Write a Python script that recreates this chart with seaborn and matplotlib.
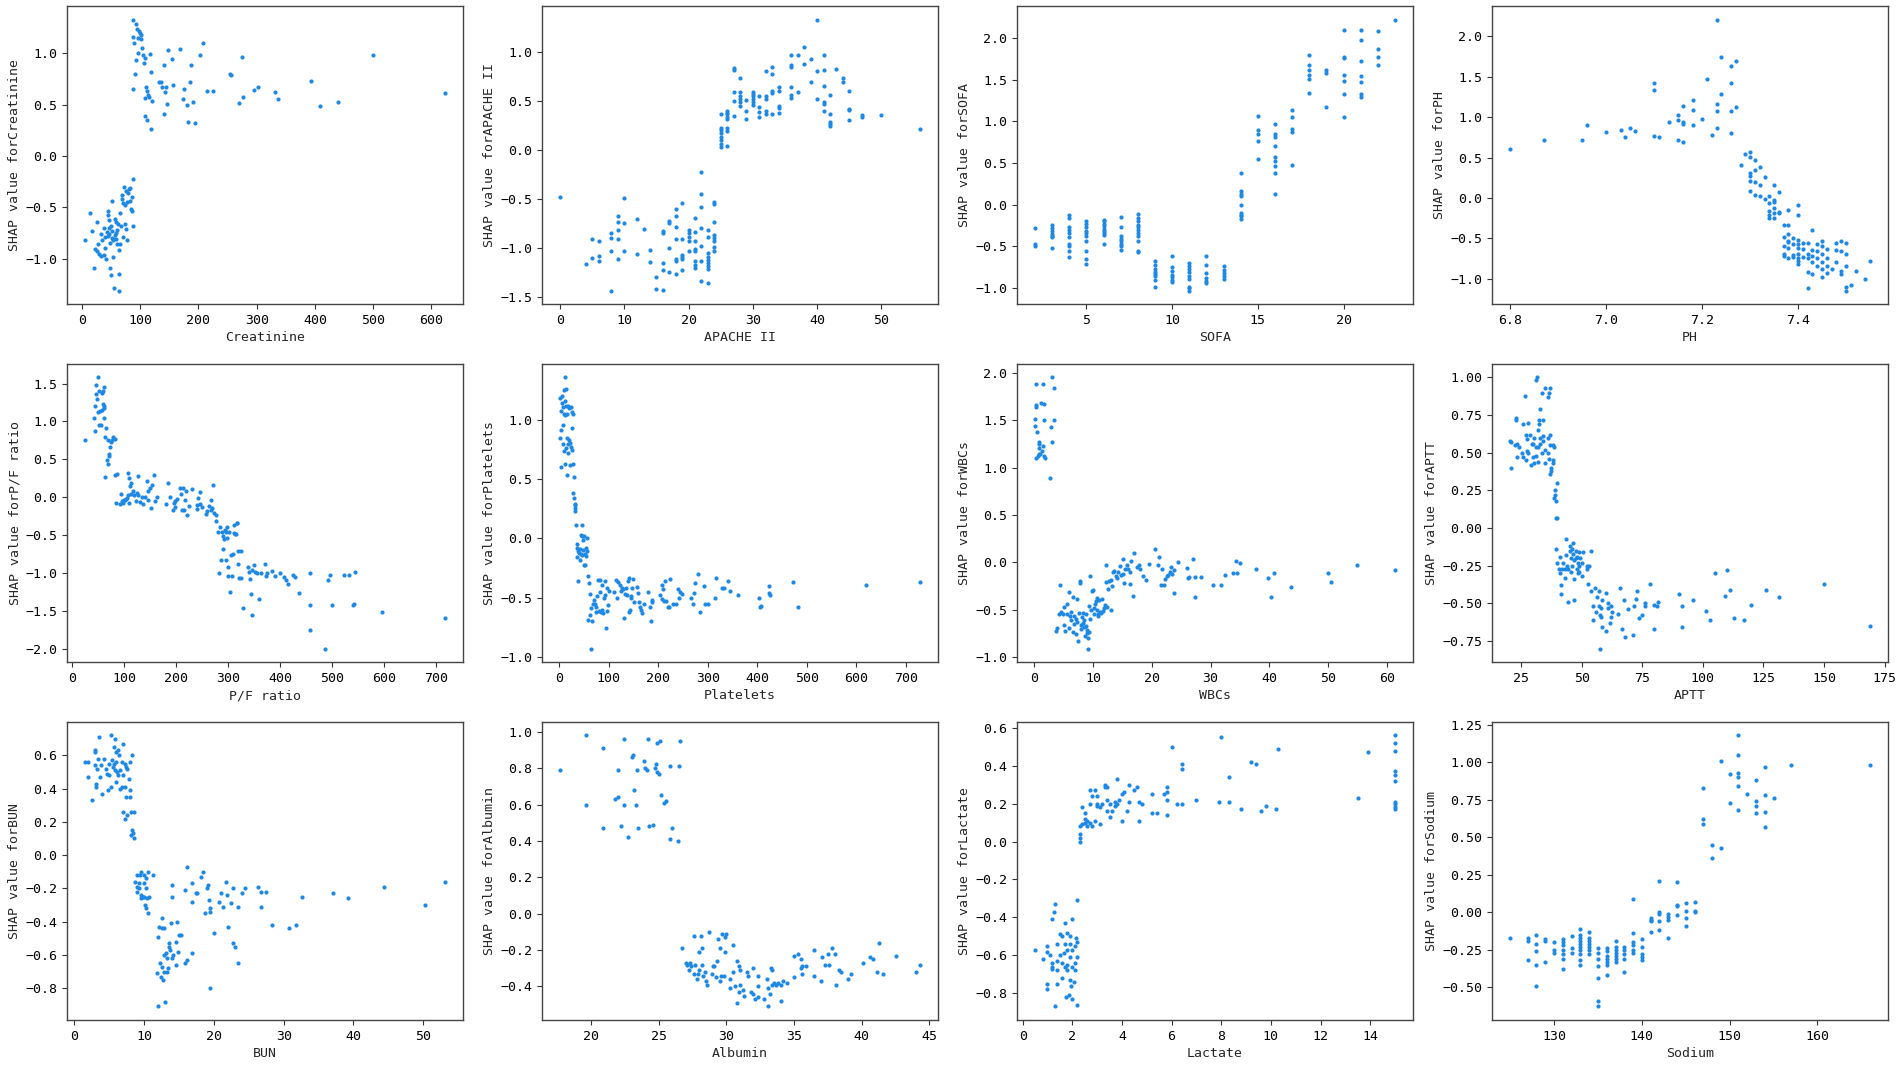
import matplotlib
matplotlib.use("Agg")
import matplotlib.pyplot as plt
import seaborn as sns

# Creatinine
creat_x = [88, 92, 95, 98, 100, 102, 97, 88, 90, 101, 103, 96, 105, 108, 93, 106, 116, 118, 91, 87,
           110, 112, 113, 115, 120, 109, 108, 111, 118, 132, 135, 138, 142, 144, 146, 140, 140, 148, 154, 156,
           168, 173, 175, 180, 182, 185, 188, 191, 194, 202, 208, 215, 225, 254, 256, 270, 274, 276, 295, 302,
           332, 337, 393, 409, 439, 500, 623,
           5, 13, 18, 20, 22, 25, 26, 28, 30, 32, 33, 35, 37, 38, 40, 40, 42, 43, 44, 45,
           46, 47, 48, 48, 49, 50, 51, 52, 52, 53, 54, 55, 56, 57, 58, 59, 60, 62, 63, 63,
           64, 65, 66, 67, 68, 69, 70, 71, 72, 73, 74, 75, 76, 77, 78, 79, 80, 82, 83, 84,
           85, 86, 87, 88, 47, 55, 58, 45, 60]
creat_y = [1.33, 1.29, 1.24, 1.22, 1.2, 1.18, 1.15, 1.16, 1.10, 1.14, 1.05, 1.0, 0.98, 0.96, 0.94, 0.91, 0.99, 0.82, 0.80, 0.65,
           0.67, 0.63, 0.60, 0.58, 0.54, 0.57, 0.39, 0.35, 0.26, 0.72, 0.72, 0.67, 0.62, 0.67, 0.51, 0.41, 0.89, 1.03, 0.95, 0.69,
           1.04, 0.56, 0.65, 0.50, 0.33, 0.72, 0.89, 0.53, 0.32, 0.98, 1.10, 0.63, 0.63, 0.80, 0.79, 0.52, 0.97, 0.58, 0.64, 0.67,
           0.62, 0.56, 0.73, 0.49, 0.53, 0.98, 0.61,
           -0.82, -0.55, -0.73, -1.09, -0.9, -0.64, -0.92, -0.86, -0.95, -0.97, -0.76, -0.82, -0.70, -0.96, -0.89, -0.79, -1.0, -0.74, -0.57, -0.53,
           -0.62, -0.76, -0.85, -1.09, -0.68, -1.16, -0.80, -0.44, -0.73, -0.98, -0.82, -1.28, -0.77, -0.61, -0.81, -0.64, -0.72, -0.66, -0.91, -1.15,
           -1.31, -0.55, -0.86, -0.68, -0.42, -0.38, -0.46, -0.79, -0.30, -0.66, -0.48, -0.71, -0.34, -0.45, -0.82, -0.36, -0.32, -0.44, -0.31, -0.51,
           -0.40, -0.53, -0.68, -0.22, -0.70, -0.81, -0.75, -0.78, -0.86]

# APACHE II
apache_x = [0, 4, 5, 5, 6, 6, 6, 8, 8, 8, 8, 9, 9, 9, 9, 9, 10, 10, 10, 12, 12, 13, 14, 14, 15, 15,
            16, 16, 16, 16, 16, 17, 17, 17, 17, 18, 18, 18, 18, 18, 18, 18, 19, 19, 19, 19, 19, 19,
            20, 20, 20, 20, 20, 21, 21, 21, 21, 21, 21, 21, 21, 22, 22, 22, 22, 22, 22, 22,
            23, 23, 23, 23, 23, 23, 23, 23, 23, 24, 24, 24, 24, 24, 24, 24, 24,
            25, 25, 25, 25, 25, 25, 25, 25, 26, 26, 26, 26, 26, 26, 26, 26, 27, 27, 27, 27, 27,
            28, 28, 28, 28, 28, 28, 29, 29, 29, 30, 30, 30, 30, 30, 30, 31, 31, 31, 31,
            32, 32, 32, 32, 32, 33, 33, 33, 33, 33, 34, 34, 34, 34, 34, 36, 36, 36, 36, 36, 36,
            37, 37, 38, 38, 39, 39, 40, 40, 40, 41, 41, 41, 41, 41, 41, 42, 42, 42, 42, 42,
            43, 44, 44, 45, 45, 45, 45, 47, 47, 50, 56]
apache_y = [-0.48, -1.17, -0.91, -1.11, -0.93, -1.09, -1.14, -0.85, -0.90, -1.03, -1.44, -0.68, -0.74, -0.82, -0.91, -1.12,
            -0.49, -0.75, -1.03, -0.71, -1.07, -0.81, -1.02, -1.15, -1.30, -1.42,
            -0.83, -0.85, -1.16, -1.23, -1.43, -0.73, -0.75, -1.00, -1.25, -0.61, -0.68, -0.79, -0.91, -1.12, -1.14, -1.27,
            -0.54, -0.91, -1.08, -1.10, -1.12, -1.23,
            -0.82, -0.85, -0.89, -0.93, -1.03, -0.70, -0.84, -0.93, -1.01, -1.03, -1.14, -1.18, -1.21,
            -0.23, -0.45, -0.59, -0.80, -0.98, -1.14, -1.34,
            -0.82, -0.89, -1.05, -1.10, -1.13, -1.16, -1.19, -1.22, -1.36, -0.53, -0.55, -0.74, -0.87, -0.90, -0.93, -0.99, -1.03,
            0.03, 0.06, 0.10, 0.13, 0.17, 0.20, 0.22, 0.36, 0.04, 0.19, 0.22, 0.31, 0.33, 0.36, 0.38, 0.40,
            0.34, 0.50, 0.59, 0.81, 0.83,
            0.45, 0.49, 0.52, 0.55, 0.59, 0.73, 0.31, 0.40, 0.51, 0.46, 0.49, 0.52, 0.55, 0.57, 0.59, 0.33, 0.39, 0.44, 0.55,
            0.37, 0.40, 0.52, 0.55, 0.80, 0.37, 0.58, 0.60, 0.77, 0.84, 0.38, 0.43, 0.45, 0.60, 0.64,
            0.53, 0.56, 0.64, 0.85, 0.87, 0.97,
            0.59, 0.97, 0.88, 1.05, 0.69, 0.93, 0.52, 0.80, 1.33, 0.40, 0.47, 0.49, 0.65, 0.81, 0.97,
            0.24, 0.26, 0.28, 0.36, 0.56,
            0.82, 0.69, 0.73, 0.30, 0.41, 0.42, 0.60, 0.33, 0.35, 0.35, 0.21]

# SOFA
sofa_x = ([2] * 3 + [3] * 7 + [4] * 10 + [5] * 10 + [6] * 9 + [7] * 8 + [8] * 11 + [9] * 8 + [10] * 7
          + [11] * 9 + [12] * 6 + [13] * 5 + [14] * 9 + [15] * 5 + [16] * 9 + [17] * 5 + [18] * 6
          + [19] * 3 + [20] * 7 + [21] * 7 + [22] * 4 + [23])
sofa_y = [-0.28, -0.47, -0.49,
          -0.24, -0.28, -0.32, -0.35, -0.37, -0.39, -0.52,
          -0.12, -0.16, -0.27, -0.30, -0.34, -0.39, -0.47, -0.50, -0.56, -0.63,
          -0.19, -0.23, -0.27, -0.31, -0.34, -0.37, -0.44, -0.55, -0.65, -0.71,
          -0.18, -0.20, -0.23, -0.26, -0.29, -0.32, -0.34, -0.36, -0.47,
          -0.15, -0.27, -0.38, -0.41, -0.43, -0.47, -0.50, -0.54,
          -0.11, -0.16, -0.20, -0.24, -0.27, -0.30, -0.34, -0.38, -0.43, -0.55, -0.57,
          -0.68, -0.72, -0.77, -0.81, -0.83, -0.86, -0.90, -0.99,
          -0.61, -0.75, -0.80, -0.84, -0.87, -0.90, -0.93,
          -0.70, -0.73, -0.77, -0.81, -0.85, -0.89, -0.98, -1.00, -1.03,
          -0.62, -0.72, -0.82, -0.88, -0.91, -0.94,
          -0.74, -0.78, -0.82, -0.86, -0.89,
          0.38, 0.17, 0.13, 0.11, 0.0, -0.10, -0.12, -0.14, -0.17,
          1.06, 0.90, 0.85, 0.76, 0.55,
          0.97, 0.85, 0.81, 0.70, 0.57, 0.52, 0.46, 0.38, 0.13,
          1.14, 1.05, 0.91, 0.87, 0.48,
          1.79, 1.68, 1.61, 1.55, 1.51, 1.34,
          1.62, 1.58, 1.17,
          2.10, 1.77, 1.76, 1.56, 1.48, 1.33, 1.05,
          2.09, 1.98, 1.72, 1.54, 1.47, 1.33, 1.29,
          2.08, 1.87, 1.77, 1.68,
          2.22]

# PH
ph_x = [6.80, 6.87, 6.95, 6.96, 7.00, 7.03, 7.04, 7.05, 7.06, 7.10, 7.10, 7.10, 7.11, 7.13, 7.15, 7.15, 7.15,
        7.16, 7.16, 7.16, 7.16, 7.18, 7.18, 7.18, 7.20, 7.21, 7.22, 7.23, 7.23, 7.23, 7.23, 7.24, 7.24,
        7.26, 7.26, 7.26, 7.26, 7.27, 7.27,
        7.28, 7.29, 7.30, 7.30, 7.30, 7.30, 7.30, 7.30, 7.31, 7.31, 7.31, 7.31, 7.32, 7.32, 7.32, 7.33, 7.33,
        7.34, 7.34, 7.34, 7.34, 7.34, 7.35, 7.35, 7.35, 7.35, 7.35, 7.35, 7.36, 7.36, 7.36,
        7.37, 7.37, 7.37, 7.37, 7.37, 7.38, 7.38, 7.38, 7.38, 7.38, 7.38, 7.38, 7.39, 7.39, 7.39, 7.39,
        7.40, 7.40, 7.40, 7.40, 7.40, 7.40, 7.40, 7.40, 7.40, 7.41, 7.41, 7.41, 7.42, 7.42, 7.42, 7.42, 7.42,
        7.43, 7.43, 7.43, 7.43, 7.43, 7.44, 7.44, 7.44, 7.44, 7.45, 7.45, 7.45, 7.45, 7.45, 7.45,
        7.46, 7.46, 7.46, 7.46, 7.47, 7.48, 7.48, 7.48, 7.49, 7.49, 7.49, 7.49, 7.50, 7.50, 7.50, 7.50, 7.50,
        7.51, 7.52, 7.54, 7.55]
ph_y = [0.61, 0.72, 0.72, 0.90, 0.82, 0.84, 0.76, 0.86, 0.83, 1.42, 1.34, 0.77, 0.75, 0.94, 1.03, 0.96, 0.72,
        0.94, 0.92, 1.14, 0.69, 1.21, 1.09, 0.90, 0.98, 1.47, 0.78, 2.21, 1.16, 1.08, 0.86, 1.75, 1.29,
        1.64, 1.42, 1.08, 0.80, 1.70, 1.12,
        0.41, 0.54, 0.57, 0.51, 0.31, 0.27, 0.21, 0.08, 0.47, 0.35, 0.20, 0.04, 0.38, 0.16, 0.02, 0.26, -0.01,
        0.02, -0.06, -0.16, -0.21, -0.25, 0.16, -0.03, -0.05, -0.13, -0.19, -0.25, 0.07, -0.17, -0.19,
        -0.33, -0.48, -0.60, -0.69, -0.72, -0.15, -0.33, -0.45, -0.53, -0.55, -0.62, -0.74, -0.50, -0.57, -0.71, -0.73,
        -0.09, -0.21, -0.52, -0.57, -0.62, -0.69, -0.75, -0.78, -0.82, -0.56, -0.63, -0.73, -0.56, -0.69, -0.74, -0.92, -1.12,
        -0.40, -0.65, -0.72, -0.80, -0.94, -0.57, -0.66, -0.74, -0.85, -0.53, -0.60, -0.70, -0.79, -0.88, -0.98,
        -0.63, -0.75, -0.84, -0.93, -0.88, -0.56, -0.64, -0.80, -0.54, -0.66, -0.90, -0.94, -0.56, -0.69, -0.84, -1.11, -1.15,
        -1.08, -0.91, -1.01, -0.78]

# P/F ratio
pf_x = [25, 43, 44, 45, 46, 47, 48, 50, 51, 52, 53, 54, 55, 57, 58, 59, 60, 61, 61, 62, 62, 63, 63, 66, 67,
        69, 70, 71, 72, 74, 75, 77, 79, 82, 83, 85, 87,
        93, 95, 97, 99, 100, 102, 104, 105, 107, 108, 109, 110, 112, 113, 114, 117, 120, 124, 126, 127, 128,
        131, 135, 136, 140, 144, 146, 147, 150, 152, 154, 157, 159, 164, 180, 184, 188, 195, 197, 198, 199,
        203, 207, 210, 212, 213, 215, 218, 220, 222, 226, 230, 240, 241, 243, 246, 247, 250, 257, 260, 264,
        267, 268, 270, 272, 274, 277, 278, 280,
        282, 285, 286, 288, 290, 291, 293, 294, 296, 297, 298, 299, 300, 300, 302, 304, 306, 308, 309, 311,
        312, 314, 316, 317, 318, 319, 320, 322, 325, 326, 328,
        338, 340, 342, 344, 346, 347, 350, 352, 355, 360, 363, 371, 373, 375, 385, 390, 400, 407, 412, 415,
        426, 428, 437, 457, 457, 457, 486, 493, 497, 500, 523, 532, 541, 543, 545, 597, 717]
pf_y = [0.76, 1.05, 1.20, 0.87, 1.36, 1.48, 1.30, 1.12, 1.58, 0.96, 1.40, 1.14, 0.95, 1.15, 1.38, 1.23, 1.40, 1.20, 1.05,
        1.45, 1.18, 0.80, 0.27, 0.92, 0.49, 0.75, 0.44, 0.57, 0.54, 0.66, 0.73, 0.76, 0.79, 0.29, 0.77, -0.07, 0.31,
        -0.09, 0.04, -0.05, -0.07, -0.03, -0.04, -0.02, -0.01, 0.03, 0.32, -0.07, 0.26, 0.15, 0.19, 0.05, 0.08, 0.03,
        -0.05, 0.06, 0.28, 0.03, -0.06, 0.01, -0.09, 0.00, 0.22, -0.04, 0.09, 0.13, -0.14, 0.17, 0.29, -0.05, 0.01,
        -0.08, 0.19, 0.01, -0.17, -0.07, -0.05, -0.12, -0.02, 0.12, 0.04, -0.17, 0.13, -0.17, -0.03, 0.09, -0.23,
        -0.11, 0.11, -0.10, -0.15, -0.01, -0.08, 0.07, -0.13, -0.22, -0.18, -0.11, -0.04, -0.17, -0.14, 0.16, -0.21,
        -0.23, -0.31, -0.46,
        -1.00, -0.39, -0.82, -0.45, -0.51, -0.68, -0.55, -0.43, -0.83, -0.46, -0.39, -0.53, -0.91, -1.03, -0.46,
        -1.24, -0.76, -1.03, -0.75, -0.36, -0.47, -0.48, -0.48, -0.34, -0.33, -0.70, -0.87, -1.06, -0.71, -1.06, -1.45,
        -0.92, -0.98, -1.07, -1.27, -0.95, -1.55, -0.89, -0.98, -0.99, -1.34, -1.00, -0.87, -1.04, -1.00, -0.97,
        -1.04, -0.99, -1.05, -1.09, -1.14, -1.02, -1.05, -1.26, -0.99, -1.41, -1.74, -1.99, -1.09, -1.02, -1.41,
        -1.02, -1.02, -1.42, -1.40, -0.98, -1.51, -1.59]

# Platelets
plt_x = [2, 3, 4, 4, 5, 6, 7, 8, 9, 9, 10, 10, 11, 12, 12, 13, 13, 14, 15, 15, 16, 17, 17, 18, 19, 19, 20,
         21, 22, 23, 24, 25, 26, 26, 27, 28, 28, 29, 30, 31, 32, 32, 33, 33,
         35, 36, 37, 37, 38, 39, 40, 42, 43, 44, 45, 46, 46, 47, 48, 49, 50, 51, 52, 53, 54, 55, 56, 57, 58,
         58, 60, 62, 63, 64, 65, 66, 68, 70, 72, 74, 75, 77, 78, 80, 82, 83, 84, 86, 87, 88, 90, 92, 93, 95,
         96, 97, 98, 100, 110, 115, 117, 120, 123, 126, 128, 130, 132, 133, 135, 138, 140, 141, 142, 144, 145,
         146, 148, 150, 152, 157, 160, 161, 163, 166, 167, 171, 180, 183, 185, 187, 188, 204, 207, 208, 210,
         212, 214, 215, 220, 222, 224, 230, 235, 240, 242, 245, 248, 267, 270, 273, 275, 280, 284, 292, 295,
         300, 314, 316, 328, 332, 340, 345, 362, 404, 405, 408, 424, 424, 425, 471, 483, 620, 728]
plt_y = [1.19, 0.85, 0.92, 0.60, 1.08, 1.20, 1.14, 1.11, 0.96, 0.80, 1.05, 0.74, 1.25, 1.36, 0.63, 1.16, 1.04, 1.26,
         1.12, 0.76, 0.54, 1.05, 0.85, 0.80, 1.12, 0.72, 0.83, 1.10, 0.62, 0.81, 1.11, 0.77, 0.93, 1.07, 0.75, 0.63,
         1.05, 0.38, 0.52, 0.34, 0.28, 0.26, 0.23, 0.29,
         0.11, -0.05, -0.08, -0.16, -0.11, -0.36, -0.12, -0.09, -0.18, -0.13, 0.03, -0.14, 0.11, 0.02, -0.10, -0.01,
         -0.22, 0.02, -0.13, -0.22, -0.08, -0.15, 0.00, -0.11, -0.32,
         -0.69, -0.38, -0.47, -0.65, -0.59, -0.93, -0.70, -0.55, -0.52, -0.55, -0.58, -0.62, -0.49, -0.35, -0.61,
         -0.45, -0.35, -0.62, -0.60, -0.39, -0.63, -0.50, -0.36, -0.48, -0.76, -0.42, -0.61, -0.56, -0.44, -0.45,
         -0.35, -0.50, -0.37, -0.39, -0.44, -0.42, -0.43, -0.67, -0.47, -0.42, -0.48, -0.36, -0.33, -0.62, -0.60,
         -0.50, -0.49, -0.42, -0.34, -0.54, -0.41, -0.46, -0.54, -0.58, -0.60, -0.63, -0.55, -0.45, -0.58, -0.70,
         -0.52, -0.54, -0.48, -0.39, -0.51, -0.43, -0.53, -0.36, -0.53, -0.58, -0.58, -0.34, -0.55, -0.55, -0.43,
         -0.50, -0.45, -0.47, -0.50, -0.55, -0.46, -0.38, -0.30, -0.62, -0.40, -0.55, -0.55, -0.50, -0.33, -0.42,
         -0.42, -0.36, -0.44, -0.48, -0.50, -0.58, -0.57, -0.40, -0.46, -0.48, -0.37, -0.58, -0.39, -0.37]

# WBCs
wbc_x = [0.1, 0.1, 0.2, 0.2, 0.2, 0.3, 0.4, 0.6, 0.7, 0.8, 0.8, 0.8, 1.0, 1.1, 1.2, 1.5, 1.5, 1.6, 1.6, 1.7, 1.8,
         2.7, 2.8, 2.9, 3.0, 3.3, 3.4,
         3.7, 3.9, 4.2, 4.3, 4.5, 4.8, 5.0, 5.1, 5.2, 5.5, 5.6, 5.8, 5.9, 6.0, 6.2, 6.3, 6.5, 6.6, 6.7, 6.8,
         7.0, 7.1, 7.2, 7.3, 7.4, 7.6, 7.7, 7.8, 7.9, 8.0, 8.1, 8.2, 8.3, 8.4, 8.5, 8.6, 8.7, 8.8, 8.9, 9.0,
         9.1, 9.1, 9.2, 9.3, 9.4, 9.5, 9.6, 9.8, 10.0, 10.1, 10.2, 10.3, 10.4, 10.6, 10.7, 10.8, 10.9, 11.0,
         11.1, 11.3, 11.5, 11.6, 11.8, 12.0, 12.1, 12.2, 12.4, 12.5, 12.7, 13.0, 13.0,
         13.2, 13.4, 13.6, 13.8, 14.0, 14.2, 14.5, 14.7, 15.0, 15.1, 15.3, 15.5, 15.8, 16.0, 16.2, 16.3, 16.5,
         16.8, 17.0, 17.5, 17.8, 18.0, 18.5, 19.0, 19.5, 20.5, 21.0, 21.2, 21.5, 21.8, 22.0, 22.3, 22.5, 22.8,
         23.0, 23.3, 23.5, 23.7, 23.8, 24.5, 26.0, 26.1, 26.3, 27.0, 27.3, 27.4, 28.3, 30.4, 31.8, 32.5, 33.8,
         34.3, 34.5, 35.0, 37.8, 39.8, 40.2, 40.8, 43.7, 50.0, 50.5, 54.9, 61.4]
wbc_y = [1.51, 1.44, 1.88, 1.66, 1.64, 1.10, 1.37, 1.12, 1.14, 1.27, 1.25, 1.21, 1.14, 1.68, 1.17, 1.88, 1.23, 1.67,
         1.50, 1.12, 1.10, 0.89, 1.43, 1.95, 1.27, 1.84, 1.50,
         -0.72, -0.69, -0.54, -0.24, -0.52, -0.55, -0.66, -0.47, -0.72, -0.44, -0.55, -0.31, -0.69, -0.57, -0.61,
         -0.52, -0.73, -0.37, -0.65, -0.57, -0.76, -0.60, -0.63, -0.39, -0.83, -0.53, -0.20, -0.22, -0.66, -0.70,
         -0.58, -0.64, -0.53, -0.68, -0.61, -0.78, -0.67, -0.55, -0.71, -0.75, -0.80, -0.91, -0.73, -0.46, -0.60,
         -0.14, -0.50, -0.30, -0.29, -0.55, -0.48, -0.44, -0.41, -0.38, -0.50, -0.54, -0.57, -0.40, -0.52, -0.53,
         -0.39, -0.51, -0.48, -0.45, -0.03, -0.21, -0.47, -0.28, -0.20, -0.50, -0.19,
         -0.25, -0.10, -0.09, -0.14, -0.17, -0.10, -0.04, -0.13, -0.12, 0.03, -0.22, -0.07, -0.03, -0.07, -0.10,
         -0.23, 0.01, -0.36, 0.10, -0.05, -0.03, -0.07, -0.14, -0.19, -0.02, 0.14, -0.03, 0.06, -0.24, -0.07,
         -0.24, -0.18, -0.14, -0.13, -0.10, -0.05, -0.12, -0.32, -0.08, 0.00, -0.06, -0.17, -0.16, 0.03, -0.15,
         -0.37, -0.15, -0.24, -0.24, -0.13, -0.11, 0.01, -0.11, -0.01, -0.07, -0.17, -0.37, -0.11, -0.26, -0.11,
         -0.21, -0.03, -0.08]

# APTT
aptt_x = [20.5, 21, 21, 22.5, 23, 23, 23.5, 23.5, 24, 25.5, 26, 26, 26.5, 27, 27, 27.5, 27.5, 28, 28, 28.5, 29,
          29.5, 30, 30, 30.5, 30.5, 31, 31, 31, 31.5, 32, 32, 32, 32.5, 32.5, 33, 33, 33, 33.5, 33.5, 34, 34, 34,
          35, 35, 35, 36, 36, 36, 36.5, 36.5, 37, 37, 37, 37, 37.5, 37.5, 38, 38, 38, 38.5, 38.5, 39, 39, 39.5,
          39.5, 40, 40,
          39.5, 40, 40.5, 41, 41, 41.5, 41.5, 42, 42.5, 43, 43, 43.5, 43.5, 44, 44.5, 44.5, 45, 45, 45.5, 45.5,
          46, 46, 46.5, 46.5, 47, 47, 47, 47.5, 47.5, 48, 48, 48.5, 48.5, 49, 49, 49, 49.5, 50, 50, 50.5, 52,
          52, 52.5, 53, 54,
          54, 54.5, 54.5, 55.5, 56, 56.5, 57, 57, 57.5, 57.5, 58, 58, 58.5, 58.5, 60, 60, 61, 61, 61.5, 62, 62,
          62.5, 65, 66, 66.5, 67.5, 68, 69, 71, 71.5, 72.5, 73, 73.5, 75, 76, 76, 78, 80, 80, 81, 81.5, 90,
          91.5, 91.5, 96, 101.5, 103, 105, 109, 110, 111, 113, 117, 120, 126, 131.5, 150, 169]
aptt_y = [0.58, 0.57, 0.40, 0.55, 0.72, 0.73, 0.56, 0.47, 0.54, 0.50, 0.69, 0.47, 0.88, 0.45, 0.62, 0.51, 0.59, 0.70,
          0.50, 0.62, 0.42, 0.56, 0.47, 0.56, 0.43, 0.60, 0.98, 0.54, 0.48, 1.00, 0.44, 0.54, 0.65, 0.72, 0.69, 0.79,
          0.60, 0.56, 0.90, 0.50, 0.72, 0.61, 0.58, 0.93, 0.52, 0.43, 0.87, 0.60, 0.50, 0.90, 0.46, 0.93, 0.62, 0.55,
          0.36, 0.40, 0.38, 0.45, 0.43, 0.55, 0.20, 0.54, 0.22, 0.25, 0.07, 0.18, 0.30, 0.07,
          -0.14, -0.23, -0.27, -0.19, -0.30, -0.38, -0.44, -0.27, -0.23, -0.27, -0.33, -0.07, -0.18, -0.25, -0.49,
          -0.27, -0.12, -0.15, -0.29, -0.20, -0.14, -0.25, -0.10, -0.17, -0.21, -0.34, -0.48, -0.15, -0.20, -0.19,
          -0.27, -0.23, -0.30, -0.16, -0.25, -0.29, -0.20, -0.32, -0.23, -0.16, -0.27, -0.25, -0.37, -0.25, -0.15,
          -0.42, -0.52, -0.61, -0.40, -0.56, -0.46, -0.42, -0.52, -0.58, -0.80, -0.53, -0.59, -0.48, -0.66, -0.43,
          -0.68, -0.50, -0.53, -0.63, -0.52, -0.59, -0.56, -0.57, -0.40, -0.67, -0.48, -0.72, -0.54, -0.71, -0.52,
          -0.47, -0.42, -0.60, -0.58, -0.50, -0.52, -0.37, -0.51, -0.67, -0.52, -0.49, -0.44, -0.52, -0.66, -0.48,
          -0.55, -0.61, -0.30, -0.45, -0.28, -0.41, -0.60, -0.61, -0.51, -0.41, -0.46, -0.37, -0.65]

# BUN
bun_x = [1.5, 1.9, 2.0, 2.5, 2.9, 3.0, 3.0, 3.1, 3.1, 3.2, 3.4, 3.5, 3.6, 3.8, 4.0, 4.2, 4.5, 4.7, 4.8, 4.9, 5.0,
         5.2, 5.3, 5.4, 5.5, 5.6, 5.7, 5.8, 5.8, 5.9, 6.0, 6.0, 6.1, 6.2, 6.3, 6.4, 6.5, 6.6, 6.8, 6.8, 6.9, 7.0,
         7.0, 7.2, 7.2, 7.3, 7.4, 7.4, 7.5, 7.6, 7.8, 7.9, 8.0, 8.0, 8.1, 8.1, 8.2, 8.3, 8.4, 8.5, 8.6,
         8.7, 8.9, 9.0, 9.0, 9.2, 9.3, 9.4, 9.5, 9.5, 9.6, 9.8, 9.9, 10.0, 10.0, 10.1, 10.2, 10.3, 10.3, 10.4,
         10.5, 10.5, 10.7, 11.3,
         11.8, 12.0, 12.0, 12.1, 12.3, 12.4, 12.5, 12.6, 12.6, 12.7, 12.8, 12.9, 12.9, 13.0, 13.1, 13.2, 13.3,
         13.4, 13.5, 13.6, 13.7, 13.9, 14.0, 14.2, 14.5, 14.6, 14.7, 14.9, 15.0, 15.3, 15.8, 16.2, 16.8,
         14.0, 14.0, 15.9, 16.1, 16.8, 16.9, 17.4, 17.6, 18.1, 18.5, 18.7, 19.0, 19.2, 19.3, 19.5, 19.5, 19.5,
         20.0, 20.7, 21.0, 21.3, 21.7, 21.8, 22.0, 22.5, 22.7, 22.8, 23.0, 23.4, 23.5, 24.0, 24.5, 26.3, 26.7,
         26.8, 27.4, 28.3, 30.8, 31.8, 32.6, 37.1, 39.2, 44.4, 50.2, 53.1]
bun_y = [0.56, 0.56, 0.47, 0.33, 0.63, 0.62, 0.54, 0.43, 0.41, 0.52, 0.58, 0.71, 0.47, 0.54, 0.37, 0.58, 0.52, 0.49,
         0.39, 0.48, 0.55, 0.72, 0.41, 0.57, 0.53, 0.55, 0.65, 0.70, 0.51, 0.62, 0.56, 0.44, 0.50, 0.63, 0.48, 0.60,
         0.40, 0.51, 0.56, 0.41, 0.67, 0.48, 0.26, 0.55, 0.22, 0.41, 0.53, 0.35, 0.24, 0.52, 0.46, 0.56, 0.39, 0.35,
         0.12, 0.26, 0.60, 0.15, 0.13, 0.10, 0.26,
         -0.16, -0.12, -0.22, -0.19, -0.20, -0.17, -0.12, -0.26, -0.10, -0.24, -0.25, -0.17, -0.12, -0.25, -0.30,
         -0.20, -0.14, -0.32, -0.26, -0.35, -0.10, -0.25, -0.12,
         -0.71, -0.49, -0.91, -0.43, -0.65, -0.73, -0.44, -0.38, -0.67, -0.75, -0.70, -0.60, -0.44, -0.88, -0.59,
         -0.70, -0.62, -0.68, -0.55, -0.53, -0.57, -0.41, -0.62, -0.60, -0.52, -0.66, -0.40, -0.58, -0.48, -0.48,
         -0.65, -0.63, -0.59,
         -0.18, -0.25, -0.21, -0.07, -0.17, -0.28, -0.23, -0.23, -0.13, -0.10, -0.35, -0.20, -0.18, -0.27, -0.32,
         -0.34, -0.80, -0.47, -0.28, -0.23, -0.31, -0.16, -0.24, -0.43, -0.29, -0.20, -0.53, -0.55, -0.31, -0.65,
         -0.23, -0.20, -0.19, -0.31, -0.22, -0.22, -0.42, -0.44, -0.42, -0.25, -0.23, -0.26, -0.19, -0.30, -0.16]

# Albumin
alb_x = [17.7, 19.6, 19.6, 20.9, 20.9, 21.8, 22.0, 22.0, 22.2, 22.4, 22.4, 22.7, 23.0, 23.1, 23.2, 23.3, 23.4, 23.5,
         23.9, 24.0, 24.1, 24.2, 24.3, 24.6, 24.7, 24.8, 24.9, 24.9, 25.0, 25.1, 25.2, 25.4, 25.5, 25.8, 25.8,
         26.0, 26.4, 26.5, 26.6,
         26.7, 27.0, 27.1, 27.2, 27.3, 27.4, 27.6, 27.6, 27.7, 27.8, 27.9, 28.0, 28.0, 28.1, 28.2, 28.2, 28.3,
         28.4, 28.5, 28.6, 28.7, 28.9, 29.0, 29.1, 29.2, 29.3, 29.4, 29.5, 29.5, 29.6, 29.7, 29.8, 29.9, 29.9,
         30.0, 30.3, 30.3, 30.5, 30.5, 30.6, 30.8, 30.8, 30.9, 30.9, 31.0, 31.0, 31.2, 31.3, 31.5, 31.6, 31.8,
         32.0, 32.0, 32.1, 32.3, 32.3, 32.3, 32.8, 33.0, 33.1, 33.1, 33.2, 33.3, 33.4, 33.4, 33.5, 33.7, 33.8,
         34.0, 34.0, 34.2, 34.5, 35.0, 35.0, 35.3, 35.5, 35.5, 35.6, 35.6, 35.9, 36.5, 36.5, 37.0, 37.1, 37.3,
         37.5, 37.6, 37.8, 38.0, 38.1, 38.3, 38.5, 39.0, 39.2, 40.1, 40.6, 40.8, 41.1, 41.3, 41.6, 42.5, 44.0, 44.3]
alb_y = [0.79, 0.98, 0.60, 0.91, 0.47, 0.63, 0.64, 0.79, 0.48, 0.96, 0.60, 0.42, 0.86, 0.87, 0.68, 0.60, 0.79, 0.47,
         0.84, 0.80, 0.79, 0.96, 0.48, 0.49, 0.80, 0.82, 0.94, 0.78, 0.77, 0.95, 0.65, 0.61, 0.62, 0.81, 0.41, 0.47,
         0.40, 0.81, 0.95,
         -0.19, -0.27, -0.28, -0.31, -0.27, -0.29, -0.33, -0.12, -0.28, -0.36, -0.33, -0.21, -0.31, -0.12, -0.19,
         -0.28, -0.34, -0.32, -0.37, -0.39, -0.10, -0.33, -0.29, -0.29, -0.35, -0.26, -0.14, -0.37, -0.19, -0.34,
         -0.11, -0.34, -0.21, -0.13, -0.11, -0.36, -0.41, -0.32, -0.17, -0.40, -0.26, -0.49, -0.43, -0.29, -0.39,
         -0.31, -0.42, -0.45, -0.32, -0.34, -0.43, -0.44, -0.30, -0.47, -0.46, -0.40, -0.34, -0.47, -0.36, -0.51,
         -0.41, -0.44, -0.30, -0.31, -0.39, -0.38, -0.39, -0.38, -0.48, -0.39, -0.37, -0.38, -0.23, -0.35, -0.22,
         -0.25, -0.30, -0.29, -0.33, -0.29, -0.20, -0.34, -0.37, -0.24, -0.28, -0.22, -0.28, -0.19, -0.22, -0.39,
         -0.31, -0.32, -0.36, -0.33, -0.27, -0.24, -0.25, -0.32, -0.16, -0.33, -0.23, -0.32, -0.28]

# Lactate
lac_x = [0.5, 0.8, 1.0, 1.0, 1.0, 1.0, 1.1, 1.2, 1.2, 1.2, 1.2, 1.25, 1.3, 1.3, 1.4, 1.4, 1.4, 1.4, 1.5, 1.5, 1.6,
         1.6, 1.6, 1.65, 1.7, 1.7, 1.7, 1.75, 1.8, 1.8, 1.8, 1.8, 1.85, 1.9, 1.9, 1.9, 1.9, 1.95, 2.0, 2.0, 2.0,
         2.0, 2.05, 2.1, 2.1, 2.1, 2.15, 2.2, 2.2, 2.2, 2.2,
         2.3, 2.3, 2.3, 2.3, 2.4, 2.4, 2.5, 2.5, 2.5, 2.6, 2.6, 2.7, 2.7, 2.7, 2.8, 2.8, 2.9, 2.9, 3.0, 3.0, 3.0,
         3.1, 3.1, 3.2, 3.3, 3.3, 3.4, 3.4, 3.4, 3.5, 3.5, 3.6, 3.7, 3.7, 3.8, 3.8, 3.9, 4.0, 4.0, 4.1, 4.2, 4.3,
         4.3, 4.5, 4.6, 4.7, 4.7, 4.8, 5.2, 5.2, 5.4, 5.7, 5.8, 5.8, 5.8, 5.8, 6.0, 6.2, 6.4, 6.4, 6.4, 7.0, 7.9,
         8.0, 8.3, 8.3, 8.8, 9.2, 9.4, 9.6, 9.8, 10.2, 10.3, 13.5, 13.9,
         15.0, 15.0, 15.0, 15.0, 15.0, 15.0, 15.0, 15.0, 15.0, 15.0]
lac_y = [-0.57, -0.62, -0.55, -0.58, -0.75, -0.78, -0.60, -0.41, -0.64, -0.66, -0.67, -0.37, -0.33, -0.87, -0.54, -0.63,
         -0.68, -0.75, -0.60, -0.49, -0.50, -0.64, -0.72, -0.59, -0.66, -0.54, -0.43, -0.82, -0.48, -0.57, -0.65,
         -0.68, -0.81, -0.50, -0.54, -0.61, -0.73, -0.76, -0.41, -0.57, -0.66, -0.83, -0.74, -0.55, -0.64, -0.68,
         -0.51, -0.31, -0.53, -0.61, -0.86,
         0.00, 0.02, 0.04, 0.08, 0.09, 0.18, 0.10, 0.12, 0.15, 0.08, 0.11, 0.10, 0.20, 0.27, 0.08, 0.24, 0.11, 0.27,
         0.19, 0.20, 0.24, 0.09, 0.18, 0.20, 0.29, 0.30, 0.16, 0.22, 0.29, 0.13, 0.20, 0.16, 0.19, 0.21, 0.20, 0.33,
         0.22, 0.11, 0.25, 0.26, 0.16, 0.21, 0.30, 0.27, 0.29, 0.11, 0.21, 0.20, 0.15, 0.25, 0.15, 0.25, 0.14, 0.22,
         0.26, 0.29, 0.50, 0.20, 0.20, 0.38, 0.41, 0.22, 0.21, 0.55, 0.21, 0.34, 0.17, 0.42, 0.41, 0.16, 0.19, 0.17,
         0.49, 0.23, 0.47,
         0.56, 0.52, 0.48, 0.37, 0.35, 0.32, 0.21, 0.20, 0.18, 0.17]

# Sodium
na_x = ([125] + [127] * 3 + [128] * 5 + [129] * 3 + [130] * 3 + [131] * 7 + [132] * 3 + [133] * 10 + [134] * 7
        + [135] * 7 + [136] * 7 + [137] * 7 + [138] * 5 + [139] * 6 + [140] * 5 + [141] * 4 + [142] * 5
        + [143] * 4 + [144] * 4 + [145] * 4 + [146] * 3 + [147] * 3 + [148] * 2 + [149] * 2 + [150] * 2
        + [151] * 6 + [152] + [153] * 4 + [154] * 4 + [155] + [157] + [166])
na_y = [-0.17,
        -0.17, -0.19, -0.32,
        -0.15, -0.21, -0.26, -0.35, -0.49,
        -0.18, -0.19, -0.33,
        -0.20, -0.25, -0.27,
        -0.18, -0.20, -0.22, -0.25, -0.28, -0.31, -0.38,
        -0.16, -0.24, -0.27,
        -0.11, -0.15, -0.17, -0.19, -0.21, -0.23, -0.25, -0.28, -0.32, -0.35,
        -0.13, -0.17, -0.19, -0.21, -0.23, -0.25, -0.28,
        -0.24, -0.27, -0.31, -0.36, -0.44, -0.59, -0.63,
        -0.24, -0.26, -0.29, -0.31, -0.33, -0.35, -0.42,
        -0.19, -0.23, -0.25, -0.27, -0.29, -0.31, -0.33,
        -0.23, -0.25, -0.28, -0.31, -0.40,
        0.09, -0.14, -0.20, -0.22, -0.25, -0.27,
        -0.18, -0.23, -0.28, -0.30, -0.32,
        -0.04, -0.05, -0.06, -0.13,
        0.21, 0.00, -0.01, -0.06, -0.12,
        -0.01, -0.03, -0.05, -0.17,
        0.20, 0.05, 0.04, -0.02,
        0.06, 0.01, -0.04, -0.09,
        0.07, 0.01, 0.00,
        0.83, 0.62, 0.59,
        0.45, 0.36,
        1.01, 0.43,
        0.92, 0.73,
        1.18, 1.05, 0.93, 0.90, 0.84, 0.68,
        0.79,
        0.88, 0.74, 0.71, 0.66,
        0.97, 0.78, 0.67, 0.57,
        0.76, 0.98, 0.98]

features = ["Creatinine", "APACHE II", "SOFA", "PH",
            "P/F ratio", "Platelets", "WBCs", "APTT",
            "BUN", "Albumin", "Lactate", "Sodium"]
xs = [creat_x, apache_x, sofa_x, ph_x, pf_x, plt_x, wbc_x, aptt_x, bun_x, alb_x, lac_x, na_x]
ys = [creat_y, apache_y, sofa_y, ph_y, pf_y, plt_y, wbc_y, aptt_y, bun_y, alb_y, lac_y, na_y]
xticks = [[0, 100, 200, 300, 400, 500, 600], [0, 10, 20, 30, 40, 50], [5, 10, 15, 20], [6.8, 7.0, 7.2, 7.4],
          [0, 100, 200, 300, 400, 500, 600, 700], [0, 100, 200, 300, 400, 500, 600, 700],
          [0, 10, 20, 30, 40, 50, 60], [25, 50, 75, 100, 125, 150, 175],
          [0, 10, 20, 30, 40, 50], [20, 25, 30, 35, 40, 45], [0, 2, 4, 6, 8, 10, 12, 14], [130, 140, 150, 160]]
yticks = [[-1.0, -0.5, 0.0, 0.5, 1.0], [-1.5, -1.0, -0.5, 0.0, 0.5, 1.0], [-1.0, -0.5, 0.0, 0.5, 1.0, 1.5, 2.0],
          [-1.0, -0.5, 0.0, 0.5, 1.0, 1.5, 2.0],
          [-2.0, -1.5, -1.0, -0.5, 0.0, 0.5, 1.0, 1.5], [-1.0, -0.5, 0.0, 0.5, 1.0],
          [-1.0, -0.5, 0.0, 0.5, 1.0, 1.5, 2.0], [-0.75, -0.5, -0.25, 0.0, 0.25, 0.5, 0.75, 1.0],
          [-0.8, -0.6, -0.4, -0.2, 0.0, 0.2, 0.4, 0.6], [-0.4, -0.2, 0.0, 0.2, 0.4, 0.6, 0.8, 1.0],
          [-0.8, -0.6, -0.4, -0.2, 0.0, 0.2, 0.4, 0.6], [-0.5, -0.25, 0.0, 0.25, 0.5, 0.75, 1.0, 1.25]]

sns.set_style("ticks")
# the original uses a fixed-width CJK font (SimHei); a sans mono is the closest look
plt.rcParams['font.family'] = ['DejaVu Sans Mono', 'Noto Sans CJK SC']
plt.rcParams['font.size'] = 9.5

fig, axes = plt.subplots(3, 4, figsize=(19.01, 10.67), dpi=100)
fig.subplots_adjust(left=0.0352, right=0.9932, top=0.9944, bottom=0.044, wspace=0.2, hspace=0.2)

for ax, name, x, y, xt, yt in zip(axes.flat, features, xs, ys, xticks, yticks):
    sns.scatterplot(x=x, y=y, ax=ax, s=9, color="#1E88E5", linewidth=0)
    ax.set_xticks(xt)
    ax.set_yticks(yt)
    ax.set_xlabel(name, fontsize=9.5, labelpad=3)
    ax.set_ylabel("SHAP value for" + name, fontsize=9.5, labelpad=3)
    ax.tick_params(labelsize=9.5, colors="#333333", labelcolor="black")
    for sp in ax.spines.values():
        sp.set_color("#444444")
        sp.set_linewidth(1.0)

fig.savefig("out.png", dpi=100)
